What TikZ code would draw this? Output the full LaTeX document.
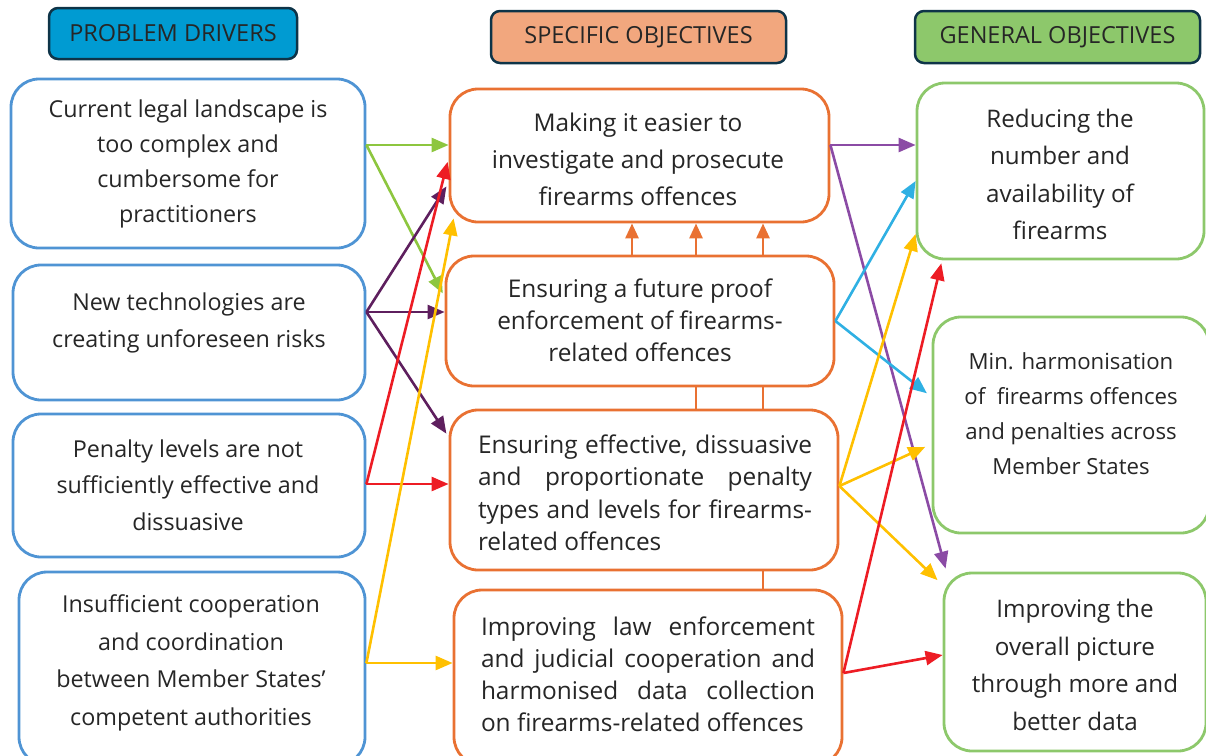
\documentclass[tikz,border=0pt]{standalone}
\usepackage{fontspec}
\setmainfont{Open Sans}
\usetikzlibrary{arrows.meta}
\definecolor{pblue}{HTML}{4F94D4}
\definecolor{oorange}{HTML}{E97132}
\definecolor{ggreen}{HTML}{8DC86B}
\definecolor{hdrline}{HTML}{0E3448}
\definecolor{hblue}{HTML}{009BD2}
\definecolor{horange}{HTML}{F2A77E}
\definecolor{hgreen}{HTML}{8DC86B}
\definecolor{txtcol}{HTML}{262626}
\definecolor{agreen}{HTML}{8DC63F}
\definecolor{adpurple}{HTML}{5E1F5E}
\definecolor{ared}{HTML}{ED1C24}
\definecolor{ayellow}{HTML}{FFC000}
\definecolor{alpurple}{HTML}{8B4BA5}
\definecolor{acyan}{HTML}{2FB0E3}
\begin{document}
\begin{tikzpicture}[x=1pt,y=-1pt,
  box/.style={draw, line width=2.8pt, rounded corners=28pt, fill=white, inner sep=0pt},
  pb/.style={box, draw=pblue},
  ob/.style={box, draw=oorange},
  gb/.style={box, draw=ggreen},
  hdr/.style={draw=hdrline, line width=2.5pt, rounded corners=9pt, inner sep=0pt, text=txtcol, font=\fontsize{23.5}{27}\selectfont},
  ltxt/.style={align=center, text=txtcol, inner sep=0pt, font=\fontsize{23.3}{34.8}\selectfont},
  mtxt/.style={align=center, text=txtcol, inner sep=0pt, font=\fontsize{24.4}{37}\selectfont},
  jtxt/.style={align=left, text=txtcol, inner sep=0pt, font=\fontsize{24.4}{32.5}\selectfont},
  rtxt/.style={align=center, text=txtcol, inner sep=0pt, font=\fontsize{24.2}{37.5}\selectfont},
  arr/.style={line width=2.6pt, -{Triangle[length=17pt,width=14pt]}},
  oarr/.style={line width=2.8pt, draw=oorange, -{Triangle[length=15pt,width=13pt]}, color=oorange},
  oline/.style={line width=2.8pt, draw=oorange}
]
\useasboundingbox (0,0) rectangle (1206,755);
\clip (0,0) rectangle (1206,755);

% headers
\node[hdr, fill=hblue, minimum width=248pt, minimum height=51pt] (H1) at (173,33.5) {PROBLEM DRIVERS};
\node[hdr, fill=horange, minimum width=295pt, minimum height=52pt] (H2) at (638.5,37) {SPECIFIC OBJECTIVES};
\node[hdr, fill=hgreen, minimum width=285pt, minimum height=52pt] (H3) at (1057.5,37) {GENERAL OBJECTIVES};

% problem drivers
\node[pb, minimum width=354pt, minimum height=169pt] (L1) at (188,163.5) {};
\node[pb, minimum width=352pt, minimum height=135pt] (L2) at (189,332.5) {};
\node[pb, minimum width=352pt, minimum height=143pt] (L3) at (189,485.5) {};
\node[pb, minimum width=346pt, minimum height=193pt] (L4) at (192,668.5) {};
\node[ltxt] (L1t) at (188,164) {Current legal landscape is\\too complex and\\cumbersome for\\practitioners};
\node[ltxt, font=\fontsize{23.3}{37}\selectfont] (L2t) at (189,322.5) {New technologies are\\creating unforeseen risks};
\node[ltxt, font=\fontsize{23.3}{36.5}\selectfont] (L3t) at (188,485) {Penalty levels are not\\sufficiently effective and\\dissuasive};
\node[ltxt, font=\fontsize{23.3}{37.7}\selectfont] (L4t) at (191,663) {Insufficient cooperation\\and coordination\\between Member States’\\competent authorities};

% specific objectives
\node[ob, minimum width=379pt, minimum height=133pt] (M1) at (639.5,155.5) {};
\node[ob, minimum width=388pt, minimum height=130pt] (M2) at (640,321) {};
\node[ob, minimum width=388pt, minimum height=160pt] (M3) at (644,490) {};
\node[ob, minimum width=388pt, minimum height=175pt] (M4) at (648,677.5) {};
\node[mtxt] (M1t) at (638,159.5) {Making it easier to\\investigate and prosecute\\firearms offences};
\node[mtxt, font=\fontsize{24.4}{32}\selectfont] (M2t) at (640,320.7) {Ensuring a future proof\\enforcement of firearms-\\related offences};
\node[jtxt] (M3t) at (645,493) {\makebox[334pt][s]{Ensuring effective, dissuasive}\\\makebox[334pt][s]{and proportionate penalty}\\\makebox[334pt][s]{types and levels for firearms-}\\\makebox[334pt][l]{related offences}};
\node[jtxt, font=\fontsize{24.4}{32}\selectfont] (M4t) at (648,674) {\makebox[334pt][s]{Improving law enforcement}\\\makebox[334pt][s]{and judicial cooperation and}\\\makebox[334pt][s]{harmonised data collection}\\\makebox[334pt][l]{on firearms-related offences}};

% general objectives
\node[gb, minimum width=287pt, minimum height=176pt] (R1) at (1060.5,171) {};
\node[gb, minimum width=276pt, minimum height=216pt] (R2) at (1071,425) {};
\node[gb, minimum width=262pt, minimum height=178pt] (R3) at (1075,662) {};
\node[rtxt] (R1t) at (1060,174.5) {Reducing the\\number and\\availability of\\firearms};
\node[rtxt, font=\fontsize{22.2}{35}\selectfont] (R2t) at (1071,414) {Min. harmonisation\\of~ firearms offences\\and penalties across\\Member States};
\node[rtxt] (R3t) at (1075,665) {Improving the\\overall picture\\through more and\\better data};

% vertical links between specific objectives
\draw[oarr] (M2.north -| 632,0) -- (M1.south -| 632,0);
\draw[oarr] (M2.north -| 696,0) -- (M1.south -| 696,0);
\draw[oarr] (M2.north -| 763,0) -- (M1.south -| 763,0);
\draw[oline] (M2.south -| 696,0) -- (M3.north -| 696,0);
\draw[oline] (M2.south -| 763,0) -- (M3.north -| 763,0);
\draw[oline] (M3.south -| 763,0) -- (M4.north -| 763,0);

% drivers -> specific objectives
\draw[arr, agreen] (L1.east |- 0,145) -- (M1.west |- 0,145);
\draw[arr, agreen, shorten >=4pt] (L1.east |- 0,145) -- (M2.west |- 0,297);
\draw[arr, adpurple, shorten >=4pt] (L2.east |- 0,312) -- (M1.west |- 0,183);
\draw[arr, adpurple] (L2.east |- 0,312) -- (M2.west |- 0,312);
\draw[arr, adpurple, shorten >=4pt] (L2.east |- 0,312) -- (M3.west |- 0,437);
\draw[arr, ared, shorten >=4pt] (L3.east |- 0,484) -- (M1.west |- 0,158);
\draw[arr, ared] (L3.east |- 0,484) -- (M3.west |- 0,484);
\draw[arr, ayellow] (L4.east |- 0,663) -- ([xshift=5pt,yshift=5pt]M1.south west);
\draw[arr, ayellow] (L4.east |- 0,663) -- (M4.west |- 0,663);

% specific -> general objectives
\draw[arr, alpurple] (M1.east |- 0,145) -- (R1.west |- 0,145);
\draw[arr, alpurple] (M1.east |- 0,145) -- ([yshift=3pt,xshift=3pt]R3.north west);
\draw[arr, acyan] (M2.east |- 0,321) -- (R1.west |- 0,181);
\draw[arr, acyan, shorten >=6pt] (M2.east |- 0,321) -- (R2.west |- 0,397);
\draw[arr, ayellow] (M3.east |- 0,486) -- (R1.west |- 0,234);
\draw[arr, ayellow, shorten >=7pt] (M3.east |- 0,486) -- (R2.west |- 0,444);
\draw[arr, ayellow, shorten >=7pt] (M3.east |- 0,486) -- (R3.west |- 0,585);
\draw[arr, ared, shorten >=3pt] (M4.east |- 0,673) -- (R1.south -| 942,0);
\draw[arr, ared] (M4.east |- 0,673) -- (R3.west |- 0,655);
\end{tikzpicture}
\end{document}
